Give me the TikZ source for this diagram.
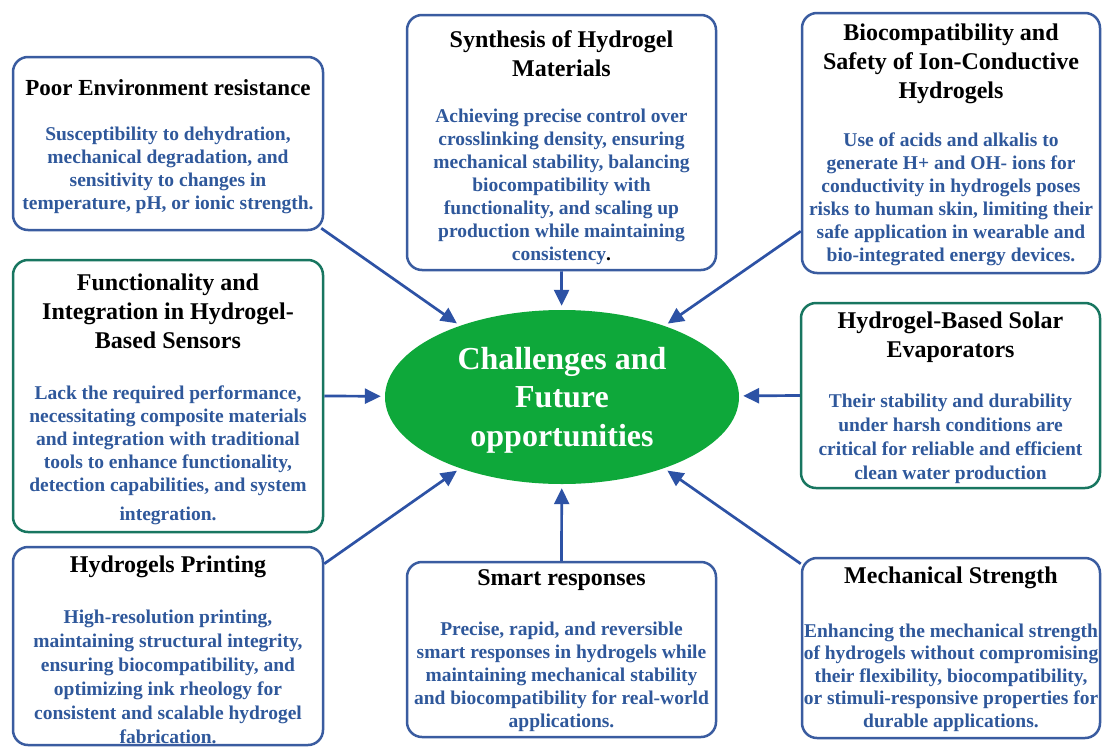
\documentclass[tikz,border=0pt]{standalone}
\usepackage{fontspec}
\setmainfont{Liberation Serif}
\usetikzlibrary{shapes.geometric,arrows.meta}
\definecolor{boxblue}{RGB}{58,92,160}
\definecolor{boxgreen}{RGB}{24,118,96}
\definecolor{bodyblue}{RGB}{47,88,155}
\definecolor{coregreen}{RGB}{14,168,58}
\definecolor{arrowblue}{RGB}{45,82,165}

\begin{document}
\begin{tikzpicture}[x=1pt,y=-1pt,
  card/.style={draw=boxblue, line width=2.5pt, rounded corners=15pt, inner sep=0pt, fill=white},
  greencard/.style={card, draw=boxgreen},
  head/.style={font=\bfseries\fontsize{24}{29}\selectfont, align=center, inner sep=0pt, text=black},
  body/.style={font=\bfseries\fontsize{19.5}{23}\selectfont, align=center, inner sep=0pt, text=bodyblue},
  link/.style={draw=arrowblue, line width=2.7pt, -{Triangle[length=16pt,width=15pt]}, shorten >=4pt}
]
\useasboundingbox (0,0) rectangle (1102,747);
\fill[white] (0,0) rectangle (1102,747);

% central ellipse
\node[ellipse, fill=coregreen, minimum width=354pt, minimum height=174pt, inner sep=0pt] (core) at (562,397) {};
\node[font=\bfseries\fontsize{32}{38.5}\selectfont, text=white, align=center, inner sep=0pt] (coretext) at (562,400)
  {Challenges and\\Future\\opportunities};

% surrounding cards
\node[card, minimum width=310pt, minimum height=173pt] (poor) at (168,143.5) {};
\node[card, minimum width=309pt, minimum height=255pt] (synth) at (561.5,142.5) {};
\node[card, minimum width=298pt, minimum height=260pt] (bio) at (951,143) {};
\node[greencard, minimum width=310pt, minimum height=272pt] (func) at (168,396) {};
\node[greencard, minimum width=299pt, minimum height=185pt] (solar) at (950.5,395.5) {};
\node[card, minimum width=310pt, minimum height=198pt] (print) at (168,646) {};
\node[card, minimum width=309pt, minimum height=175pt] (smart) at (561.5,649.5) {};
\node[card, minimum width=298pt, minimum height=180pt] (mech) at (951,648) {};

% card headings
\node[head, font=\bfseries\fontsize{23}{29}\selectfont] (poorh) at (168,88) {Poor Environment resistance};
\node[head] (synthh) at (561.5,53.5) {Synthesis of Hydrogel\\Materials};
\node[head] (bioh) at (951,64) {Biocompatibility and\\Safety of Ion-Conductive\\Hydrogels};
\node[head] (funch) at (168,311) {Functionality and\\Integration in Hydrogel-\\Based Sensors};
\node[head] (solarh) at (950.5,337.5) {Hydrogel-Based Solar\\Evaporators};
\node[head] (printh) at (168,567) {Hydrogels Printing};
\node[head] (smarth) at (561.5,580) {Smart responses};
\node[head] (mechh) at (951,578) {Mechanical Strength};

% card descriptions
\node[body] (poorb) at (168,170.5) {Susceptibility to dehydration,\\mechanical degradation, and\\sensitivity to changes in\\temperature, pH, or ionic strength.};
\node[body] (synthb) at (561.5,186.5) {Achieving precise control over\\crosslinking density, ensuring\\mechanical stability, balancing\\biocompatibility with\\functionality, and scaling up\\production while maintaining\\consistency{\color{black}.}};
\node[body] (biob) at (951,199) {Use of acids and alkalis to\\generate H+ and OH- ions for\\conductivity in hydrogels poses\\risks to human skin, limiting their\\safe application in wearable and\\bio-integrated energy devices.};
\node[body] (funcb) at (168,455) {Lack the required performance,\\necessitating composite materials\\and integration with traditional\\tools to enhance functionality,\\detection capabilities, and system\\[6pt]integration.};
\node[body, font=\bfseries\fontsize{19.5}{24}\selectfont] (solarb) at (950.5,439) {Their stability and durability\\under harsh conditions are\\critical for reliable and efficient\\clean water production};
\node[body, font=\bfseries\fontsize{19.5}{24}\selectfont] (printb) at (168,677) {High-resolution printing,\\maintaining structural integrity,\\ensuring biocompatibility, and\\optimizing ink rheology for\\consistent and scalable hydrogel\\fabrication.};
\node[body] (smartb) at (561.5,676.5) {Precise, rapid, and reversible\\smart responses in hydrogels while\\maintaining mechanical stability\\and biocompatibility for real-world\\applications.};
\node[body, font=\bfseries\fontsize{19.5}{22.5}\selectfont] (mechb) at (951,677.5) {Enhancing the mechanical strength\\of hydrogels without compromising\\their flexibility, biocompatibility,\\or stimuli-responsive properties for\\durable applications.};

% connectors into the ellipse
\draw[link] ([xshift=-3pt,yshift=3pt]poor.south east) -- (core);
\draw[link] (synth.south) -- (core);
\draw[link] ([yshift=43pt]bio.south west) -- (core);
\draw[link] (func.east) -- (core);
\draw[link] (solar.west) -- (core);
\draw[link] ([yshift=-18pt]print.north east) -- (core);
\draw[link] (smart.north) -- (core);
\draw[link] ([yshift=-7pt]mech.north west) -- (core);
\end{tikzpicture}
\end{document}
